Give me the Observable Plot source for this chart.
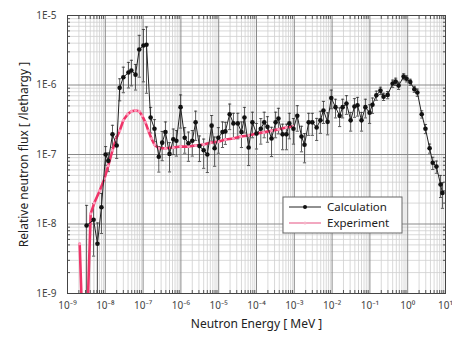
<!DOCTYPE html>
<html>
<head>
<meta charset="utf-8">
<script src="https://cdn.jsdelivr.net/npm/d3@7"></script>
<script src="https://cdn.jsdelivr.net/npm/@observablehq/plot@0.6"></script>
<style>
  html, body { margin: 0; padding: 0; background: #fff; }
  #chart { position: relative; width: 452px; height: 338px; }
  svg { font-family: "Noto Sans", "DejaVu Sans", sans-serif; }
</style>
</head>
<body>
<div id="chart"></div>
<script>
// ---- Calculation (MeV, flux per lethargy, relative error) ----
const calcEnergy = [3.2e-9, 4.9e-9, 6.2e-9, 7.9e-9, 1.02e-8, 1.2e-8, 1.55e-8, 2.0e-8, 2.4e-8, 3.0e-8,
  4.1e-8, 4.9e-8, 6.3e-8, 7.9e-8, 1.02e-7, 1.23e-7, 1.58e-7, 2.0e-7, 2.6e-7, 3.2e-7,
  3.9e-7, 5.0e-7, 6.3e-7, 7.6e-7, 9.8e-7, 1.26e-6, 1.58e-6, 2.0e-6, 2.45e-6, 3.1e-6,
  4.0e-6, 5.0e-6, 6.5e-6, 7.8e-6, 9.8e-6, 1.26e-5, 1.5e-5, 1.95e-5, 2.45e-5, 3.2e-5,
  4.0e-5, 4.8e-5, 6.2e-5, 7.8e-5, 1.0e-4, 1.3e-4, 1.6e-4, 1.95e-4, 2.5e-4, 3.2e-4,
  3.8e-4, 4.9e-4, 6.2e-4, 7.4e-4, 9.5e-4, 1.2e-3, 1.55e-3, 1.86e-3, 2.4e-3, 3.0e-3,
  3.9e-3, 4.9e-3, 5.9e-3, 7.6e-3, 9.5e-3, 1.23e-2, 1.58e-2, 1.9e-2, 2.4e-2, 3.1e-2,
  3.9e-2, 4.7e-2, 6.0e-2, 7.6e-2, 9.8e-2, 0.117, 0.148, 0.19, 0.23, 0.295,
  0.40, 0.48, 0.575, 0.78, 0.93, 1.17, 1.5, 1.8, 2.35, 2.95,
  3.8, 4.6, 5.75, 7.4, 8.3];
const calcFlux = [9.5e-9, 1.15e-8, 5.2e-9, 1.74e-8, 1.0e-7, 8.1e-8, 1.95e-7, 1.35e-7, 9.1e-7, 1.29e-6,
  1.51e-6, 1.62e-6, 1.41e-6, 3.24e-6, 3.7e-6, 3.8e-6, 3.4e-7, 2.35e-7, 9.3e-8, 1.48e-7,
  2.1e-7, 1.02e-7, 1.66e-7, 1.58e-7, 4.8e-7, 1.74e-7, 1.45e-7, 1.58e-7, 2.9e-7, 1.32e-7,
  1.15e-7, 1.0e-7, 2.6e-7, 1.23e-7, 1.74e-7, 2.1e-7, 2.15e-7, 3.8e-7, 2.8e-7, 2.8e-7,
  2.1e-7, 3.4e-7, 1.26e-7, 2.9e-7, 2.0e-7, 2.35e-7, 2.9e-7, 2.5e-7, 1.7e-7, 2.9e-7,
  3.3e-7, 1.95e-7, 1.95e-7, 2.8e-7, 2.35e-7, 3.6e-7, 1.82e-7, 1.38e-7, 2.9e-7, 2.9e-7,
  2.45e-7, 3.1e-7, 4.3e-7, 2.95e-7, 6.5e-7, 4.8e-7, 3.6e-7, 4.8e-7, 5.4e-7, 3.1e-7,
  4.9e-7, 5.1e-7, 3.1e-7, 4.8e-7, 4.0e-7, 5.2e-7, 7.1e-7, 8.3e-7, 6.8e-7, 7.2e-7,
  1.05e-6, 1.12e-6, 9.8e-7, 1.32e-6, 1.23e-6, 1.1e-6, 8.7e-7, 7.8e-7, 3.8e-7, 2.35e-7,
  1.23e-7, 7.6e-8, 6.7e-8, 3.7e-8, 2.8e-8];
const calcRelErr = [0.95, 0.7, 0.99, 0.58, 0.3, 0.3, 0.35, 0.35, 0.35, 0.4,
  0.4, 0.4, 0.4, 0.6, 0.7, 0.8, 0.4, 0.35, 0.4, 0.45,
  0.4, 0.45, 0.4, 0.4, 0.5, 0.4, 0.45, 0.4, 0.45, 0.4,
  0.45, 0.45, 0.4, 0.45, 0.4, 0.4, 0.35, 0.4, 0.4, 0.4,
  0.4, 0.4, 0.45, 0.4, 0.4, 0.4, 0.4, 0.4, 0.45, 0.4,
  0.4, 0.4, 0.4, 0.4, 0.4, 0.4, 0.4, 0.45, 0.35, 0.35,
  0.35, 0.35, 0.35, 0.35, 0.3, 0.3, 0.3, 0.3, 0.3, 0.3,
  0.3, 0.3, 0.3, 0.3, 0.3, 0.25, 0.15, 0.12, 0.12, 0.12,
  0.12, 0.12, 0.12, 0.1, 0.1, 0.1, 0.1, 0.12, 0.12, 0.15,
  0.15, 0.2, 0.2, 0.35, 0.4];

// ---- Experiment ----
const expEnergy = [2.1e-9, 2.4e-9, 3.4e-9, 4.1e-9, 5.1e-9, 7.1e-9, 9.5e-9, 1.2e-8, 1.55e-8, 1.86e-8,
  2.4e-8, 3.0e-8, 3.9e-8, 4.9e-8, 6.3e-8, 7.9e-8, 9.5e-8, 1.15e-7, 1.38e-7, 1.66e-7,
  2.0e-7, 2.6e-7, 3.9e-7, 6.3e-7, 9.8e-7, 1.6e-6, 2.45e-6, 4.0e-6, 6.0e-6, 9.8e-6,
  1.5e-5, 2.45e-5, 3.8e-5, 6.2e-5, 1.0e-4, 1.55e-4, 2.5e-4, 3.8e-4, 6.2e-4, 9.5e-4];
const expFlux = [5.2e-9, 6e-10, 6e-10, 1.4e-8, 2.0e-8, 3.0e-8, 4.5e-8, 6.9e-8, 1.15e-7, 1.6e-7,
  2.2e-7, 3.1e-7, 3.8e-7, 4.2e-7, 4.3e-7, 4.2e-7, 3.6e-7, 2.9e-7, 2.2e-7, 1.7e-7,
  1.38e-7, 1.23e-7, 1.23e-7, 1.26e-7, 1.3e-7, 1.3e-7, 1.35e-7, 1.39e-7, 1.48e-7, 1.53e-7,
  1.64e-7, 1.7e-7, 1.82e-7, 1.88e-7, 2.0e-7, 2.08e-7, 2.2e-7, 2.3e-7, 2.45e-7, 2.55e-7];

// ---- Axes ----
const xDecades = [-9, -8, -7, -6, -5, -4, -3, -2, -1, 0, 1];
const yDecades = [-9, -8, -7, -6, -5];
const yTickLabels = ["1E-9", "1E-8", "1E-7", "1E-6", "1E-5"];
const minorMultipliers = [2, 3, 4, 5, 6, 7, 8, 9];
const xTitle = "Neutron Energy [ MeV ]";
const yTitle = "Relative neutron flux [ /lethargy ]";
const seriesNames = ["Calculation", "Experiment"];

// ---- Build tables ----
const calc = calcEnergy.map((e, i) => ({
  e, f: calcFlux[i],
  lo: Math.max(calcFlux[i] * (1 - calcRelErr[i]), 1e-12),
  hi: calcFlux[i] * (1 + calcRelErr[i])
}));
const expt = expEnergy.map((e, i) => ({e, f: expFlux[i]}));
const xMajor = xDecades.map(k => Math.pow(10, k));
const yMajor = yDecades.map(k => Math.pow(10, k));
const xMinor = xDecades.slice(0, -1).flatMap(k => minorMultipliers.map(m => m * Math.pow(10, k)));
const yMinor = yDecades.slice(0, -1).flatMap(k => minorMultipliers.map(m => m * Math.pow(10, k)));

const supMap = {"-": "\u207B", "0": "\u2070", "1": "\u00B9", "2": "\u00B2", "3": "\u00B3",
  "4": "\u2074", "5": "\u2075", "6": "\u2076", "7": "\u2077", "8": "\u2078", "9": "\u2079"};
const sup = n => String(n).split("").map(c => supMap[c]).join("");

const capSymbol = {
  draw(context, size) {
    const w = Math.sqrt(size) / 2;
    context.moveTo(-w, 0);
    context.lineTo(w, 0);
  }
};

const plot = Plot.plot({
  width: 452,
  height: 338,
  marginLeft: 67,
  marginRight: 7,
  marginTop: 15,
  marginBottom: 45,
  style: {fontSize: "10px", color: "#333", background: "#fff"},
  x: {type: "log", domain: [1e-9, 10]},
  y: {type: "log", domain: [1e-9, 1e-5]},
  marks: [
    Plot.ruleX(xMinor, {stroke: "#cfcfcf", strokeWidth: 0.8}),
    Plot.ruleY(yMinor, {stroke: "#cfcfcf", strokeWidth: 0.8}),
    Plot.ruleX(xMajor, {stroke: "#8a8a8a", strokeWidth: 1}),
    Plot.ruleY(yMajor, {stroke: "#8a8a8a", strokeWidth: 1}),
    Plot.axisX(xMinor, {anchor: "bottom", tickSize: -3, tickFormat: () => "", label: null, stroke: "#555"}),
    Plot.axisX(xMinor, {anchor: "top", tickSize: -3, tickFormat: () => "", label: null, stroke: "#555"}),
    Plot.axisY(yMinor, {anchor: "left", tickSize: -3, tickFormat: () => "", label: null, stroke: "#555"}),
    Plot.axisY(yMinor, {anchor: "right", tickSize: -3, tickFormat: () => "", label: null, stroke: "#555"}),
    Plot.axisX(xMajor, {anchor: "bottom", tickSize: 0, tickPadding: 8, fontSize: 10, fill: "#444",
      tickFormat: d => "10" + sup(Math.round(Math.log10(d))), label: null}),
    Plot.axisY(yMajor, {anchor: "left", tickSize: 0, tickPadding: 11, fontSize: 10, fill: "#444",
      tickFormat: d => yTickLabels[yMajor.indexOf(d)], label: null}),
    Plot.text([xTitle], {frameAnchor: "bottom", dy: 34, fontSize: 12, fill: "#222"}),
    Plot.text([yTitle], {frameAnchor: "left", dx: -43, rotate: -90, textAnchor: "middle", fontSize: 12, fill: "#222"}),
    Plot.ruleX(calc, {x: "e", y1: "lo", y2: "hi", stroke: "#333", strokeWidth: 0.8, clip: true}),
    Plot.dot(calc, {x: "e", y: "hi", symbol: capSymbol, r: 1.8, stroke: "#333", strokeWidth: 0.8, fill: "none", clip: true}),
    Plot.dot(calc, {x: "e", y: "lo", symbol: capSymbol, r: 1.8, stroke: "#333", strokeWidth: 0.8, fill: "none", clip: true}),
    Plot.line(expt, {x: "e", y: "f", stroke: "#ef3468", strokeWidth: 2.6, clip: true}),
    Plot.dot(expt, {x: "e", y: "f", r: 1.5, fill: "#ff9fbf", stroke: "none", clip: true}),
    Plot.line(calc, {x: "e", y: "f", stroke: "#222", strokeWidth: 1, clip: true}),
    Plot.dot(calc, {x: "e", y: "f", r: 2.3, fill: "#111", stroke: "none", clip: true}),
    Plot.frame({stroke: "#444", strokeWidth: 1})
  ]
});

document.getElementById("chart").appendChild(plot);

// ---- Legend (inside the frame) ----
const svg = d3.select(plot);
const lg = svg.append("g").attr("transform", "translate(283,197)").attr("text-anchor", "start");
lg.append("rect").attr("width", 119).attr("height", 36)
  .attr("fill", "#fff").attr("stroke", "#666").attr("stroke-width", 1);
const rows = [
  {name: seriesNames[0], stroke: "#222", sw: 1, dot: "#111", r: 2},
  {name: seriesNames[1], stroke: "#f2a8c0", sw: 2, dot: "#f5b5c8", r: 1.5}
];
rows.forEach((row, i) => {
  const y = 10 + i * 16;
  lg.append("line").attr("x1", 6).attr("x2", 38).attr("y1", y).attr("y2", y)
    .attr("stroke", row.stroke).attr("stroke-width", row.sw);
  lg.append("circle").attr("cx", 22).attr("cy", y).attr("r", row.r).attr("fill", row.dot);
  lg.append("text").attr("x", 44).attr("y", y).attr("dy", "0.35em")
    .attr("text-anchor", "start").attr("font-size", 11.5).attr("fill", "#222").text(row.name);
});
</script>
</body>
</html>
